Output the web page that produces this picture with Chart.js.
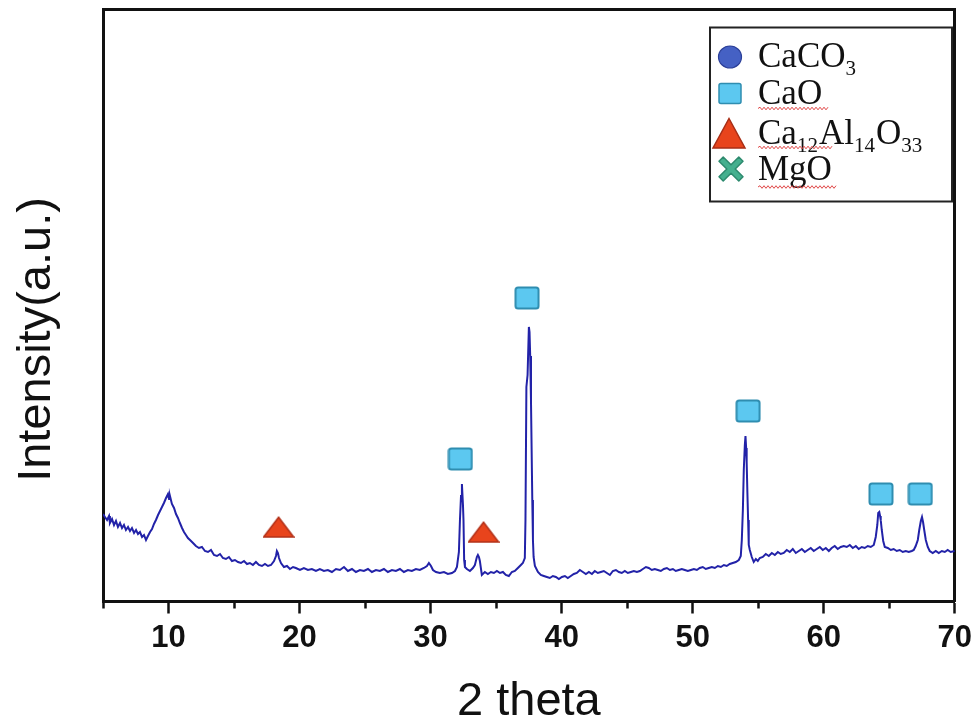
<!DOCTYPE html>
<html><head><meta charset="utf-8">
<script src="https://cdn.jsdelivr.net/npm/chart.js@4.4.1/dist/chart.umd.min.js"></script>
<style>html,body{margin:0;padding:0;background:#fff;} #wrap{width:978px;height:724px;position:relative;}</style>
</head><body><div id="wrap"><canvas id="c" width="978" height="724"></canvas></div>
<script>
// ---- data (2θ in degrees, intensity in arbitrary units) ----
const twoTheta = [5.00,5.15,5.31,5.46,5.53,5.69,5.84,5.99,6.14,6.30,6.45,6.60,6.75,6.91,7.06,7.21,7.37,7.52,7.67,7.82,7.98,8.13,8.28,8.43,8.59,8.74,8.89,9.04,9.20,9.35,9.50,9.65,9.81,9.96,10.04,10.11,10.26,10.42,10.57,10.72,10.87,11.03,11.18,11.33,11.48,11.64,11.87,12.09,12.32,12.55,12.78,13.01,13.24,13.47,13.70,13.93,14.15,14.38,14.61,14.84,15.07,15.30,15.53,15.76,15.99,16.21,16.44,16.67,16.90,17.13,17.36,17.59,17.82,18.05,18.20,18.27,18.35,18.43,18.58,18.81,19.04,19.27,19.50,19.72,20.03,20.33,20.64,20.94,21.25,21.55,21.86,22.16,22.47,22.78,23.08,23.39,23.69,24.00,24.30,24.61,24.91,25.22,25.52,25.83,26.13,26.44,26.74,27.05,27.35,27.66,27.96,28.27,28.57,28.88,29.18,29.49,29.72,29.87,30.03,30.18,30.41,30.71,31.02,31.32,31.63,31.86,32.01,32.16,32.24,32.32,32.39,32.47,32.51,32.56,32.62,32.77,33.00,33.23,33.38,33.53,33.61,33.69,33.76,33.91,34.14,34.37,34.60,34.83,35.06,35.29,35.52,35.74,35.97,36.20,36.43,36.66,36.89,37.04,37.19,37.24,37.31,37.40,37.50,37.55,37.60,37.66,37.71,37.76,37.81,37.86,37.96,38.19,38.41,38.64,38.87,39.10,39.33,39.56,39.79,40.02,40.25,40.47,40.70,40.93,41.16,41.39,41.62,41.85,42.08,42.31,42.53,42.76,42.99,43.22,43.45,43.68,43.91,44.14,44.37,44.59,44.82,45.05,45.28,45.51,45.74,45.97,46.20,46.43,46.65,46.88,47.11,47.34,47.57,47.80,48.03,48.26,48.49,48.71,48.94,49.17,49.40,49.63,49.86,50.09,50.32,50.54,50.77,51.00,51.23,51.46,51.69,51.92,52.15,52.38,52.60,52.83,53.06,53.29,53.52,53.67,53.75,53.83,53.90,53.98,54.03,54.08,54.12,54.17,54.23,54.28,54.36,54.51,54.66,54.82,54.97,55.12,55.35,55.58,55.81,56.04,56.27,56.50,56.72,56.95,57.18,57.41,57.64,57.87,58.10,58.33,58.56,58.78,59.01,59.24,59.47,59.70,59.93,60.16,60.39,60.61,60.84,61.07,61.30,61.53,61.76,61.99,62.22,62.45,62.67,62.90,63.13,63.36,63.59,63.82,63.97,64.09,64.16,64.24,64.30,64.35,64.43,64.54,64.66,64.89,65.12,65.34,65.57,65.80,66.03,66.26,66.49,66.72,66.87,67.02,67.18,67.29,67.41,67.50,67.58,67.67,67.79,67.94,68.09,68.32,68.55,68.78,69.01,69.24,69.46,69.69,70.00];
const intensity = [86,83,80,84,77,81,75,79,73,77,72,75,70,73,69,72,67,70,66,68,63,65,60,64,68,71,76,80,85,89,93,97,102,106,101,104,96,92,86,82,77,72,68,65,62,60,57,54,52,53,49,48,50,45,44,46,42,41,43,39,40,38,37,39,36,37,35,38,35,34,36,34,35,39,44,49,47,42,37,33,34,31,33,32,30,32,30,31,29,31,29,30,28,31,30,33,29,31,28,30,29,31,28,30,29,31,28,30,29,31,28,30,29,31,30,32,34,37,34,30,28,27,28,26,27,29,33,48,80,104,116,95,80,40,33,31,29,32,35,43,45,43,39,25,28,26,28,27,29,27,28,25,24,28,29,32,35,37,42,80,213,225,273,268,244,200,150,100,60,43,34,28,25,24,23,22,24,23,21,23,24,22,24,26,27,30,28,26,28,26,29,27,28,29,27,25,29,30,28,27,29,27,28,29,28,29,31,33,32,30,31,30,29,31,32,30,31,29,30,31,30,29,30,31,30,32,33,31,32,33,32,34,33,35,34,36,37,38,40,44,60,90,130,155,164,152,138,110,80,55,50,43,38,41,39,42,43,46,44,47,45,48,46,47,50,48,51,47,49,51,48,50,52,49,51,53,50,52,49,52,54,51,53,54,53,55,52,54,51,53,52,54,53,55,63,75,87,88,84,80,70,59,53,52,50,51,49,50,48,49,48,49,50,54,60,70,79,83,78,70,60,53,49,47,49,47,49,48,50,48,49];

// phase markers (CaO squares, Ca12Al14O33 triangles)
const caoTheta = [32.27, 37.36, 54.23, 64.37, 67.37];
const caoMark  = [141, 302, 189, 106, 106];
const mayTheta = [18.40, 34.04];
const mayMark  = [73, 68];

const xTickLabels = [10, 20, 30, 40, 50, 60, 70];
const legendNames = ['CaCO3', 'CaO', 'Ca12Al14O33', 'MgO'];
const xTitle = '2 theta';
const yTitle = 'Intensity(a.u.)';

// ---- marker images ----
function rr(g, x, y, w, h, r) {
  g.beginPath();
  g.moveTo(x + r, y); g.lineTo(x + w - r, y); g.quadraticCurveTo(x + w, y, x + w, y + r);
  g.lineTo(x + w, y + h - r); g.quadraticCurveTo(x + w, y + h, x + w - r, y + h);
  g.lineTo(x + r, y + h); g.quadraticCurveTo(x, y + h, x, y + h - r);
  g.lineTo(x, y + r); g.quadraticCurveTo(x, y, x + r, y); g.closePath();
}
function squareImg() {
  const c = document.createElement('canvas'); c.width = 26; c.height = 24;
  const g = c.getContext('2d');
  rr(g, 1.5, 1.5, 23, 21, 2.5);
  g.fillStyle = '#5cc8f0'; g.fill();
  g.lineWidth = 2; g.strokeStyle = '#2f8db0'; g.stroke();
  return c;
}
function triImg() {
  const c = document.createElement('canvas'); c.width = 32; c.height = 22;
  const g = c.getContext('2d');
  g.beginPath(); g.moveTo(16, 1.2); g.lineTo(31, 21); g.lineTo(1, 21); g.closePath();
  g.fillStyle = '#e8441c'; g.fill();
  g.lineWidth = 1.5; g.strokeStyle = '#b3321a'; g.stroke();
  return c;
}
const SQ = squareImg(), TR = triImg();

const pts = (xs, ys) => xs.map((x, i) => ({x: x, y: ys[i]}));
const AXIS = '#111';

// ---- plugins: y title & legend box ----
const yTitlePlugin = {
  id: 'yTitle',
  afterDraw(chart) {
    const ctx = chart.ctx; ctx.save();
    ctx.font = '47px "Liberation Sans", Arial, sans-serif';
    ctx.fillStyle = AXIS; ctx.textAlign = 'center'; ctx.textBaseline = 'alphabetic';
    ctx.translate(50, 339.5); ctx.rotate(-Math.PI / 2);
    ctx.fillText(yTitle, 0, 0);
    ctx.restore();
  }
};

function wavy(ctx, x0, x1, y) {
  ctx.save(); ctx.strokeStyle = '#e04848'; ctx.lineWidth = 1;
  ctx.beginPath(); let up = true; ctx.moveTo(x0, y);
  for (let x = x0 + 2; x <= x1; x += 2) { ctx.lineTo(x, up ? y - 1.3 : y + 1.3); up = !up; }
  ctx.stroke(); ctx.restore();
}

const legendPlugin = {
  id: 'phaseLegend',
  afterDraw(chart) {
    const ctx = chart.ctx; ctx.save();
    const bx = 710, by = 27.5, bw = 242, bh = 174;
    ctx.fillStyle = '#fff'; ctx.fillRect(bx, by, bw, bh);
    ctx.strokeStyle = '#222'; ctx.lineWidth = 2; ctx.strokeRect(bx, by, bw, bh);
    const baselines = [66.5, 103.5, 144, 179.5];
    const mcx = 730;
    // circle
    ctx.beginPath(); ctx.ellipse(mcx, 57, 11.5, 11, 0, 0, Math.PI * 2);
    ctx.fillStyle = '#4561c4'; ctx.fill(); ctx.lineWidth = 1.2; ctx.strokeStyle = '#2b3f98'; ctx.stroke();
    // square
    rr(ctx, 719, 83.5, 22, 20, 2);
    ctx.fillStyle = '#5cc8f0'; ctx.fill(); ctx.lineWidth = 1.5; ctx.strokeStyle = '#2f8db0'; ctx.stroke();
    // triangle
    ctx.beginPath(); ctx.moveTo(729, 118.5); ctx.lineTo(745, 148); ctx.lineTo(713, 148); ctx.closePath();
    ctx.fillStyle = '#e8441c'; ctx.fill(); ctx.lineWidth = 1.5; ctx.strokeStyle = '#a82e16'; ctx.stroke();
    // heavy cross
    ctx.save(); ctx.translate(731, 169);
    ctx.beginPath();
    const a = 12, t = 4.2;
    ctx.moveTo(-a + t, -a); ctx.lineTo(0, -t); ctx.lineTo(a - t, -a); ctx.lineTo(a, -a + t); ctx.lineTo(t, 0);
    ctx.lineTo(a, a - t); ctx.lineTo(a - t, a); ctx.lineTo(0, t); ctx.lineTo(-a + t, a); ctx.lineTo(-a, a - t);
    ctx.lineTo(-t, 0); ctx.lineTo(-a, -a + t); ctx.closePath();
    ctx.lineJoin = 'round';
    ctx.fillStyle = '#45b08f'; ctx.fill(); ctx.lineWidth = 1.5; ctx.strokeStyle = '#2d8a6e'; ctx.stroke();
    ctx.restore();
    // texts with subscripts
    ctx.fillStyle = '#111'; ctx.textBaseline = 'alphabetic'; ctx.textAlign = 'left';
    const big = '35px "Liberation Serif", "Times New Roman", serif';
    const small = '21px "Liberation Serif", "Times New Roman", serif';
    legendNames.forEach((name, i) => {
      let x = 758; const y = baselines[i];
      const parts = name.match(/[A-Za-z]+|\d+/g);
      parts.forEach(p => {
        const sub = /^\d+$/.test(p);
        ctx.font = sub ? small : big;
        ctx.fillText(p, x, sub ? y + 8 : y);
        x += ctx.measureText(p).width + (sub ? 1 : 0);
      });
    });
    wavy(ctx, 758, 828, 108.5);
    wavy(ctx, 758, 832, 147.5);
    wavy(ctx, 758, 836, 187);
    ctx.restore();
  }
};

new Chart(document.getElementById('c'), {
  type: 'scatter',
  data: {
    datasets: [
      { label: 'XRD', data: pts(twoTheta, intensity), showLine: true, borderColor: '#2222a8',
        borderWidth: 2, pointRadius: 0, tension: 0, fill: false, order: 2 },
      { label: 'CaO', data: pts(caoTheta, caoMark), showLine: false, pointStyle: SQ, pointRadius: 12, order: 1 },
      { label: 'Ca12Al14O33', data: pts(mayTheta, mayMark), showLine: false, pointStyle: TR, pointRadius: 12, order: 1 }
    ]
  },
  options: {
    responsive: false, animation: false, events: [],
    layout: { autoPadding: false, padding: { left: 0, right: 23, top: 9, bottom: 0 } },
    plugins: { legend: { display: false }, tooltip: { enabled: false } },
    scales: {
      x: {
        type: 'linear', position: 'bottom', min: 5, max: 70,
        afterFit: s => { s.height = 122.5; },
        border: { display: true, width: 3, color: AXIS },
        grid: {
          display: true, drawOnChartArea: false, drawTicks: true, tickLength: 12,
          tickWidth: 2.5, tickColor: AXIS,
          tickBorderDash: ctx => (ctx.tick && xTickLabels.includes(ctx.tick.value)) ? [] : [5.5, 40]
        },
        ticks: {
          stepSize: 5, autoSkip: false, maxRotation: 0, padding: 6, color: AXIS,
          font: { family: '"Liberation Sans", Arial, sans-serif', size: 31, weight: 'bold', lineHeight: 1.2 },
          callback: v => xTickLabels.includes(v) ? String(v) : ''
        },
        title: { display: true, text: xTitle, color: AXIS,
          font: { family: '"Liberation Sans", Arial, sans-serif', size: 47, weight: 'normal', lineHeight: 0.9 },
          padding: { top: 0, bottom: 1 } }
      },
      y: {
        type: 'linear', position: 'left', min: -1.5, max: 591,
        afterFit: s => { s.width = 103; },
        border: { display: true, width: 3, color: AXIS },
        grid: { display: false },
        ticks: { display: false }
      },
      x2: {
        type: 'linear', position: 'top', min: 5, max: 70,
        afterFit: s => { s.height = 0; },
        border: { display: true, width: 3, color: AXIS },
        grid: { display: false }, ticks: { display: false }
      },
      y2: {
        type: 'linear', position: 'right', min: 0, max: 1,
        afterFit: s => { s.width = 0; },
        border: { display: true, width: 3, color: AXIS },
        grid: { display: false }, ticks: { display: false }
      }
    }
  },
  plugins: [yTitlePlugin, legendPlugin]
});
</script>
</body></html>
